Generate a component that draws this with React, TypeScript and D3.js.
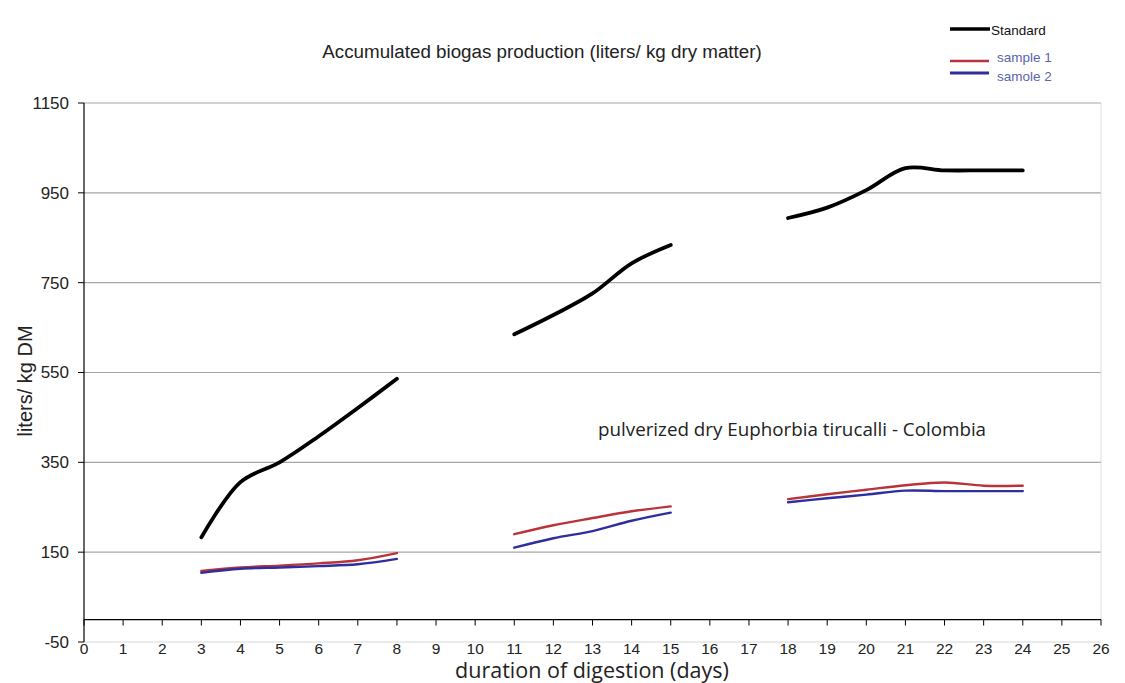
import React from "react";
import * as d3 from "d3";

const days = [3, 4, 5, 6, 7, 8, 9, 10, 11, 12, 13, 14, 15, 16, 17, 18, 19, 20, 21, 22, 23, 24];
const standard = [183, 306, 350, 408, 471, 536, null, null, 635, 678, 726, 793, 834, null, null, 894, 917, 956, 1005, 1000, 1000, 1000];
const sample1 = [108, 116, 120, 125, 132, 148, null, null, 190, 210, 226, 241, 252, null, null, 268, 279, 289, 299, 305, 298, 298];
const sample2 = [104, 113, 116, 119, 123, 135, null, null, 160, 181, 197, 220, 238, null, null, 261, 270, 278, 287, 286, 286, 286];
const yTicks = [-50, 150, 350, 550, 750, 950, 1150];
const xTicks = d3.range(0, 27);

const seriesList = [
  { name: "Standard", values: standard, color: "#000000", width: 3.8 },
  { name: "sample 1", values: sample1, color: "#b8343a", width: 2.4 },
  { name: "sample 2", values: sample2, color: "#2e2e9e", width: 2.4 },
];

export default function App() {
  const W = 1125, H = 683;
  const x = d3.scaleLinear().domain([0, 26]).range([84, 1101]);
  const y = d3.scaleLinear().domain([-50, 1150]).range([642, 103]);
  const line = d3
    .line<number | null>()
    .defined((d) => d !== null)
    .x((_, i) => x(days[i]))
    .y((d) => y(d as number))
    .curve(d3.curveCatmullRom.alpha(0.5));

  const arial = "Arial, 'Liberation Sans', sans-serif";
  const cal = "'Open Sans', 'Noto Sans', sans-serif";

  return (
    <svg width={W} height={H} style={{ position: "absolute", left: 0, top: 0, background: "#fff" }}>
      <rect x={0} y={0} width={W} height={H} fill="#fff" />
      {/* gridlines */}
      {yTicks.map((t) => (
        <line key={"g" + t} x1={x(0)} x2={x(26)} y1={y(t)} y2={y(t)} stroke={t === -50 ? "#d8d8d8" : "#a6a6a6"} strokeWidth={1.2} />
      ))}
      <line x1={x(26)} x2={x(26)} y1={y(1150)} y2={y(0)} stroke="#dcdcdc" strokeWidth={1} />
      {/* y axis */}
      <line x1={x(0)} x2={x(0)} y1={y(1150)} y2={y(-50)} stroke="#000" strokeWidth={1.2} />
      {yTicks.map((t) => (
        <g key={"yt" + t}>
          <line x1={x(0) - 6} x2={x(0)} y1={y(t)} y2={y(t)} stroke="#000" strokeWidth={1} />
          <text x={x(0) - 15} y={y(t)} dy="0.35em" textAnchor="end" fontFamily={arial} fontSize={17} fill="#222">
            {t}
          </text>
        </g>
      ))}
      {/* x axis at 0 */}
      <line x1={x(0)} x2={x(26)} y1={y(0)} y2={y(0)} stroke="#000" strokeWidth={1.3} />
      {xTicks.map((t) => (
        <g key={"xt" + t}>
          <line x1={x(t)} x2={x(t)} y1={y(0)} y2={y(0) + 6} stroke="#000" strokeWidth={1} />
          <text x={x(t)} y={654} textAnchor="middle" fontFamily={arial} fontSize={15.5} fill="#222">
            {t}
          </text>
        </g>
      ))}
      {/* series */}
      {seriesList.map((s) => (
        <path key={s.name} d={line(s.values) || ""} fill="none" stroke={s.color} strokeWidth={s.width} strokeLinejoin="round" strokeLinecap="round" />
      ))}
      {/* title */}
      <text x={542} y={58} textAnchor="middle" fontFamily={arial} fontSize={18.8} fill="#222">
        Accumulated biogas production (liters/ kg dry matter)
      </text>
      {/* annotation */}
      <text x={598} y={436} fontFamily={cal} fontSize={18.8} fill="#222">
        pulverized dry Euphorbia tirucalli - Colombia
      </text>
      {/* axis titles */}
      <text x={592} y={678} textAnchor="middle" fontFamily={cal} fontSize={21.5} fill="#222">
        duration of digestion (days)
      </text>
      <text transform={`translate(32,381) rotate(-90)`} textAnchor="middle" fontFamily={arial} fontSize={20} fill="#222">
        liters/ kg DM
      </text>
      {/* legend */}
      <line x1={950} x2={990} y1={29} y2={29} stroke="#000" strokeWidth={3.5} />
      <text x={991} y={35} fontFamily={arial} fontSize={13.5} fill="#111">Standard</text>
      <line x1={950} x2={989} y1={61} y2={61} stroke={seriesList[1].color} strokeWidth={2.6} />
      <text x={997} y={62} fontFamily={arial} fontSize={13.5} fill="#5a64a8">sample 1</text>
      <line x1={950} x2={989} y1={73} y2={73} stroke={seriesList[2].color} strokeWidth={3} />
      <text x={997} y={81} fontFamily={arial} fontSize={13.5} fill="#5a64a8">samole 2</text>
    </svg>
  );
}
